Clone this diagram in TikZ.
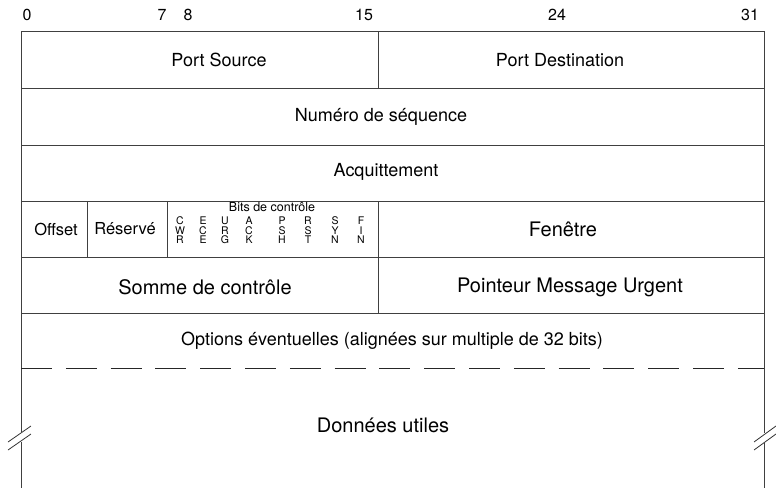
\documentclass[tikz,border=0pt]{standalone}
\usepackage{fontspec}
\setmainfont{TeX Gyre Heros}
\usepackage{tikz}

\begin{document}
\begin{tikzpicture}[x=1pt,y=-1pt,
    trait/.style={draw=black!75,line width=0.9pt},
    champ/.style={inner sep=0pt,font=\fontsize{18}{20}\selectfont},
    case/.style={inner sep=0pt,font=\fontsize{16.5}{19}\selectfont},
    grand/.style={inner sep=0pt,font=\fontsize{20}{23}\selectfont},
    bit/.style={inner sep=0pt,font=\fontsize{10.5}{11}\selectfont},
    num/.style={inner sep=0pt,font=\fontsize{16}{18}\selectfont}]
      \useasboundingbox (0,0) rectangle (776,488);

      % numeros de bits
      \node[num](n0) at (27,15) {0};
      \node[num](n7) at (162,15) {7};
      \node[num](n8) at (188,15) {8};
      \node[num](n15) at (364,15) {15};
      \node[num](n24) at (557,15) {24};
      \node[num](n31) at (750,15) {31};

      % cadre
      \path[trait] (21,31) -- (764,31);
      \path[trait] (21,31) -- (21,432);
      \path[trait] (21,442) -- (21,488);
      \path[trait] (764,31) -- (764,433);
      \path[trait] (764,443) -- (764,488);
      \foreach \y in {88,145,201,257,313}
        \path[trait] (21,\y) -- (764,\y);
      \path[trait] (378,31) -- (378,88);
      \path[trait] (378,201) -- (378,313);
      \path[trait] (87,201) -- (87,257);
      \path[trait] (167,201) -- (167,257);
      \path[draw=black!85,line width=0.9pt,dash pattern=on 31pt off 13.8pt] (21,368) -- (764,368);

      % coupures
      \path[draw=black!80,line width=0.8pt] (8,442) -- (31,426);
      \path[draw=black!80,line width=0.8pt] (8,450) -- (31,434);
      \path[draw=black!80,line width=0.8pt] (754,442) -- (776,426);
      \path[draw=black!80,line width=0.8pt] (754,450) -- (776,434);

      % champs
      \node[champ](src) at (219,60) {Port Source};
      \node[champ](dst) at (560,60) {Port Destination};
      \node[champ](seq) at (381,117) {Numéro de séquence};
      \node[champ](ack) at (386,172) {Acquittement};
      \node[case](off) at (56,229) {Offset};
      \node[case](res) at (125,229) {Réservé};
      \node[grand](fen) at (563,229) {Fenêtre};
      \node[grand](som) at (205,287) {Somme de contrôle};
      \node[grand](urg) at (570,287) {Pointeur Message Urgent};
      \node[champ](opt) at (392,341) {Options éventuelles (alignées sur multiple de 32 bits)};
      \node[grand](don) at (383,425) {Données utiles};

      % bits de controle
      \node[bit,font=\fontsize{12.5}{13}\selectfont](titre) at (272,207.5) {Bits de contrôle};
      \foreach \x/\a/\b/\c [count=\i] in {180/C/W/R, 203/E/C/E, 225/U/R/G, 249/A/C/K,
                                         282/P/S/H, 308/R/S/T, 335/S/Y/N, 361/F/I/N} {
        \node[bit](b\i a) at (\x,221) {\a};
        \node[bit](b\i b) at (\x,230.5) {\b};
        \node[bit](b\i c) at (\x,240) {\c};
      }
    \end{tikzpicture}
\end{document}
